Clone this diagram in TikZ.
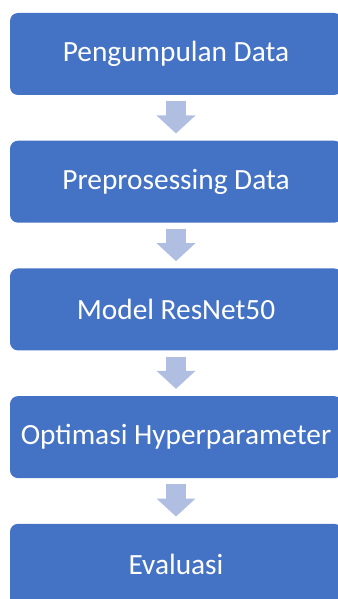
\documentclass[tikz,border=0pt]{standalone}
\usepackage{fontspec}
\setmainfont{Carlito}
\usetikzlibrary{arrows.meta}

\definecolor{boxblue}{HTML}{4472C4}
\definecolor{arrowblue}{HTML}{B0BEE1}

\begin{document}
\begin{tikzpicture}[
		x=0.75pt, y=-0.75pt,
		every node/.style={rectangle, rounded corners=6pt, fill=boxblue, text=white,
			minimum width=249pt, minimum height=61.5pt, inner sep=0pt, font=\fontsize{22}{26}\selectfont},
		stepArrow/.style={draw=arrowblue, line width=15pt,
			-{Triangle[width=28.5pt, length=13.5pt, fill=arrowblue]},
			shorten <=4.5pt, shorten >=5.25pt}
	]
  \useasboundingbox (0,0) rectangle (337,599);
  \node (data) at (176, 54) {Pengumpulan Data};
  \node (prep) at (176, 181.7) {Preprosessing Data};
  \node (model) at (176, 309.4) {Model ResNet50};
  \node (hyper) at (176, 437.1) {Optimasi Hyperparameter};
  \node (eval) at (176, 564.8) {Evaluasi};
  \draw[stepArrow] (data) -- (prep);
  \draw[stepArrow] (prep) -- (model);
  \draw[stepArrow] (model) -- (hyper);
  \draw[stepArrow] (hyper) -- (eval);
\end{tikzpicture}
\end{document}
